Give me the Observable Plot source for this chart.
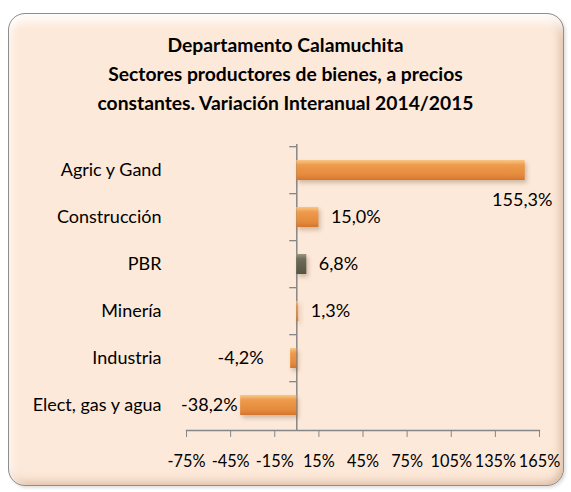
<!DOCTYPE html>
<html>
<head>
<meta charset="utf-8">
<script src="https://cdn.jsdelivr.net/npm/d3@7"></script>
<script src="https://cdn.jsdelivr.net/npm/@observablehq/plot@0.6"></script>
<style>
  html, body { margin: 0; padding: 0; background: #ffffff; }
  body { width: 571px; height: 492px; position: relative; overflow: hidden; font-family: Lato, "Open Sans", sans-serif; }
  .frame {
    position: absolute; left: 8px; top: 13px; width: 554px; height: 471px;
    border-radius: 17px;
    border: 1.5px solid #8e8e8e;
    background: #fde9d9;
    box-shadow:
      inset 0 16px 10px -8px rgba(255,255,255,0.85),
      inset 10px 0 9px -7px rgba(255,255,255,0.7),
      inset -9px 0 8px -5px rgba(205,170,140,0.55),
      inset 0 -9px 8px -5px rgba(205,170,140,0.55),
      2px 2px 3px rgba(0,0,0,0.12);
  }
  .title {
    position: absolute; left: 0; top: 30px; width: 571px; text-align: center;
    font-weight: bold; font-size: 19.3px; line-height: 29px; color: #000;
  }
  #chart { position: absolute; left: 0; top: 130px; }
  #chart g[aria-label="bar"] { filter: drop-shadow(2px 3px 2px rgba(90,60,30,0.28)); }
</style>
</head>
<body>
<svg width="0" height="0" style="position:absolute">
  <defs>
    <linearGradient id="gOrange" x1="0" y1="0" x2="0" y2="1">
      <stop offset="0" stop-color="#f9c784"/>
      <stop offset="0.25" stop-color="#ee9a4c"/>
      <stop offset="0.75" stop-color="#e58a3c"/>
      <stop offset="1" stop-color="#d27630"/>
    </linearGradient>
    <linearGradient id="gGray" x1="0" y1="0" x2="0" y2="1">
      <stop offset="0" stop-color="#9a9780"/>
      <stop offset="0.25" stop-color="#6f6c58"/>
      <stop offset="1" stop-color="#555342"/>
    </linearGradient>
  </defs>
</svg>
<div class="frame"></div>
<div class="title">Departamento Calamuchita<br>Sectores productores de bienes, a precios<br>constantes. Variación Interanual 2014/2015</div>
<div id="chart"></div>
<script>
// Data
const categories = ["Agric y Gand", "Construcción", "PBR", "Minería", "Industria", "Elect, gas y agua"];
const values = [155.3, 15.0, 6.8, 1.3, -4.2, -38.2];
const xTicks = [-75, -45, -15, 15, 45, 75, 105, 135, 165];

const rows = categories.map((cat, i) => ({cat, value: values[i]}));
const fmt = v => v.toFixed(1).replace(".", ",") + "%";

const W = 571, H = 345, mt = 14, mb = 45, ml = 186, mr = 32;
const step = (H - mt - mb) / categories.length;
const axisColor = "#868686";
const FS = 16.3;

const plot = Plot.plot({
  width: W, height: H,
  marginLeft: ml, marginRight: mr, marginTop: mt, marginBottom: mb,
  style: {background: "transparent", fontFamily: "Lato, 'Open Sans', sans-serif", fontSize: FS + "px", color: "#000", overflow: "visible"},
  x: {domain: [-75, 165], axis: null},
  y: {domain: categories, axis: null, paddingInner: 0.58, paddingOuter: 0.29},
  marks: [
    Plot.frame({anchor: "bottom", stroke: axisColor, strokeWidth: 1.3}),
    Plot.axisX({ticks: xTicks, tickFormat: d => d + "%", tickSize: 7, tickPadding: 18, label: null, stroke: axisColor, fill: "#000", fontSize: FS}),
    Plot.ruleX([0], {stroke: axisColor, strokeWidth: 1.5}),
    Plot.ruleY(categories, {y: d => d, x1: -4.8, x2: 0, dy: -step / 2, stroke: axisColor, strokeWidth: 1.3}),
    Plot.barX(rows.filter(d => d.cat !== "PBR"), {x: "value", y: "cat", fill: "url(#gOrange)"}),
    Plot.barX(rows.filter(d => d.cat === "PBR"), {x: "value", y: "cat", fill: "url(#gGray)"}),
    Plot.text(categories, {y: d => d, frameAnchor: "left", textAnchor: "end", dx: -25, fontSize: 18, fill: "#000"}),
    Plot.text(rows.filter(d => d.value > 100), {x: "value", y: "cat", text: d => fmt(d.value), textAnchor: "middle", dx: -3, dy: 30, fontSize: 18, fill: "#000"}),
    Plot.text(rows.filter(d => d.value >= 0 && d.value <= 100), {x: "value", y: "cat", text: d => fmt(d.value), textAnchor: "start", dx: 12, fontSize: 18, fill: "#000"}),
    Plot.text(rows.filter(d => d.value < 0 && d.value > -10), {x: "value", y: "cat", text: d => fmt(d.value), textAnchor: "end", dx: -27, fontSize: 18, fill: "#000"}),
    Plot.text(rows.filter(d => d.value <= -10), {x: "value", y: "cat", text: d => fmt(d.value), textAnchor: "end", dx: -3, fontSize: 18, fill: "#000"})
  ]
});
document.getElementById("chart").appendChild(plot);
</script>
</body>
</html>
